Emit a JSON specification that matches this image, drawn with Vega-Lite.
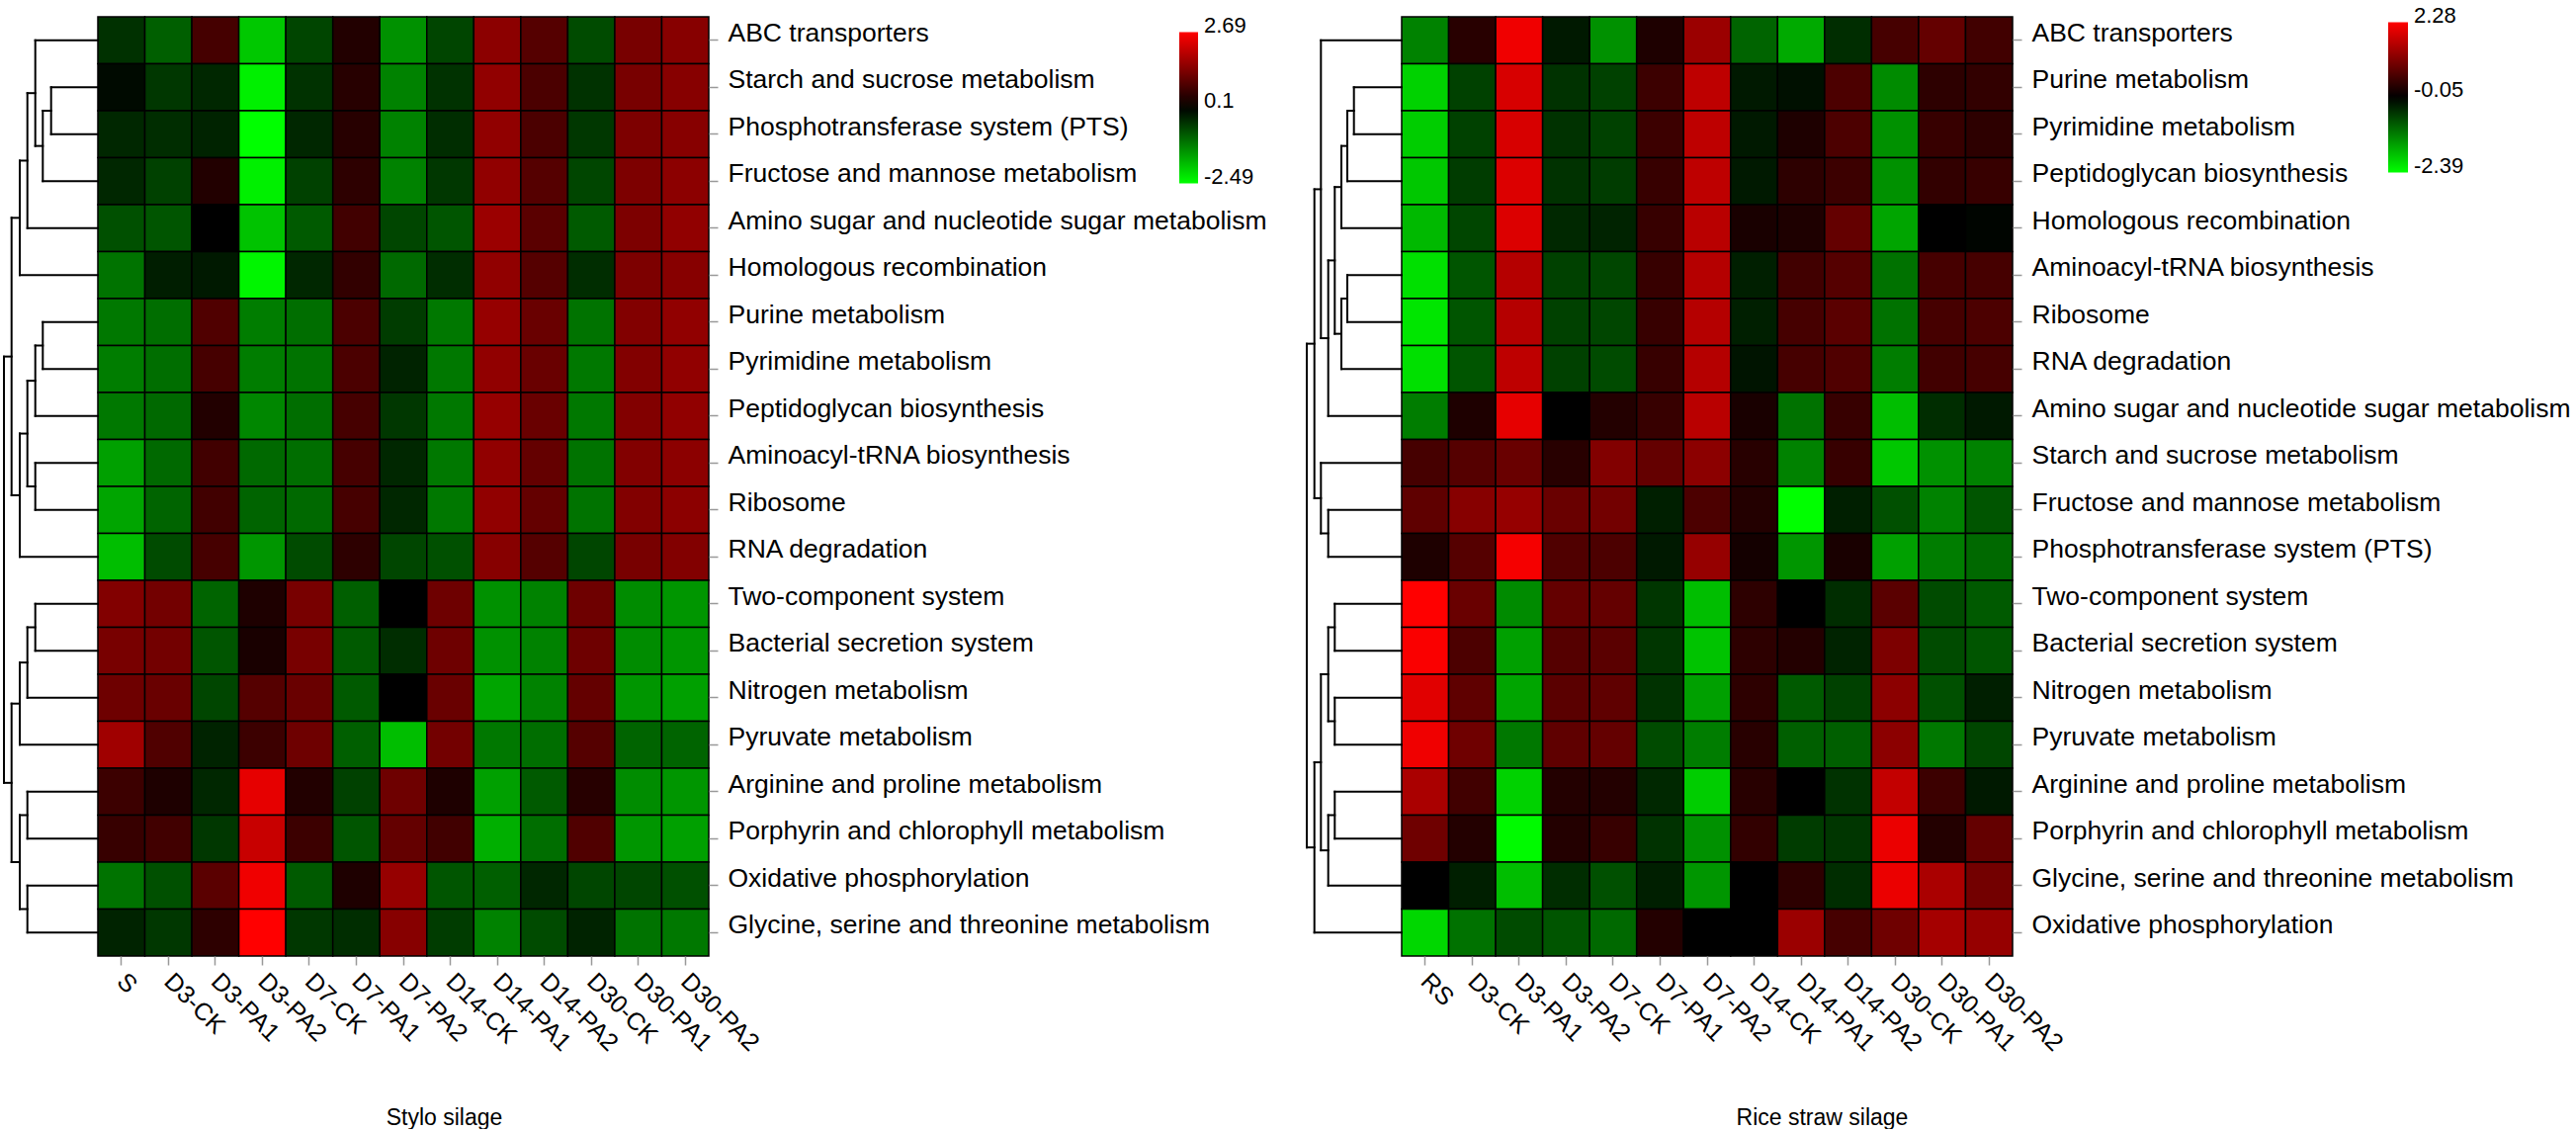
{
  "$schema": "https://vega.github.io/schema/vega-lite/v6.json",
  "background": "white",
  "padding": {"left": 0, "top": 16, "right": 0, "bottom": 0},
  "config": {"view": {"stroke": null}, "font": "Liberation Sans"},
  "datasets": {
    "stylo": [
      {"p":"ABC transporters","s":"S","v":-0.4},{"p":"ABC transporters","s":"D3-CK","v":-0.86},{"p":"ABC transporters","s":"D3-PA1","v":0.8},{"p":"ABC transporters","s":"D3-PA2","v":-1.93},{"p":"ABC transporters","s":"D7-CK","v":-0.6},{"p":"ABC transporters","s":"D7-PA1","v":0.45},{"p":"ABC transporters","s":"D7-PA2","v":-1.37},{"p":"ABC transporters","s":"D14-CK","v":-0.6},{"p":"ABC transporters","s":"D14-PA1","v":1.52},{"p":"ABC transporters","s":"D14-PA2","v":0.96},{"p":"ABC transporters","s":"D30-CK","v":-0.66},{"p":"ABC transporters","s":"D30-PA1","v":1.32},{"p":"ABC transporters","s":"D30-PA2","v":1.47},
      {"p":"Starch and sucrose metabolism","s":"S","v":0.0},{"p":"Starch and sucrose metabolism","s":"D3-CK","v":-0.46},{"p":"Starch and sucrose metabolism","s":"D3-PA1","v":-0.3},{"p":"Starch and sucrose metabolism","s":"D3-PA2","v":-2.34},{"p":"Starch and sucrose metabolism","s":"D7-CK","v":-0.41},{"p":"Starch and sucrose metabolism","s":"D7-PA1","v":0.5},{"p":"Starch and sucrose metabolism","s":"D7-PA2","v":-1.22},{"p":"Starch and sucrose metabolism","s":"D14-CK","v":-0.41},{"p":"Starch and sucrose metabolism","s":"D14-PA1","v":1.57},{"p":"Starch and sucrose metabolism","s":"D14-PA2","v":0.86},{"p":"Starch and sucrose metabolism","s":"D30-CK","v":-0.41},{"p":"Starch and sucrose metabolism","s":"D30-PA1","v":1.32},{"p":"Starch and sucrose metabolism","s":"D30-PA2","v":1.47},
      {"p":"Phosphotransferase system (PTS)","s":"S","v":-0.3},{"p":"Phosphotransferase system (PTS)","s":"D3-CK","v":-0.36},{"p":"Phosphotransferase system (PTS)","s":"D3-PA1","v":-0.26},{"p":"Phosphotransferase system (PTS)","s":"D3-PA2","v":-2.49},{"p":"Phosphotransferase system (PTS)","s":"D7-CK","v":-0.3},{"p":"Phosphotransferase system (PTS)","s":"D7-PA1","v":0.5},{"p":"Phosphotransferase system (PTS)","s":"D7-PA2","v":-1.22},{"p":"Phosphotransferase system (PTS)","s":"D14-CK","v":-0.36},{"p":"Phosphotransferase system (PTS)","s":"D14-PA1","v":1.57},{"p":"Phosphotransferase system (PTS)","s":"D14-PA2","v":0.86},{"p":"Phosphotransferase system (PTS)","s":"D30-CK","v":-0.46},{"p":"Phosphotransferase system (PTS)","s":"D30-PA1","v":1.37},{"p":"Phosphotransferase system (PTS)","s":"D30-PA2","v":1.47},
      {"p":"Fructose and mannose metabolism","s":"S","v":-0.3},{"p":"Fructose and mannose metabolism","s":"D3-CK","v":-0.56},{"p":"Fructose and mannose metabolism","s":"D3-PA1","v":0.45},{"p":"Fructose and mannose metabolism","s":"D3-PA2","v":-2.34},{"p":"Fructose and mannose metabolism","s":"D7-CK","v":-0.56},{"p":"Fructose and mannose metabolism","s":"D7-PA1","v":0.56},{"p":"Fructose and mannose metabolism","s":"D7-PA2","v":-1.22},{"p":"Fructose and mannose metabolism","s":"D14-CK","v":-0.46},{"p":"Fructose and mannose metabolism","s":"D14-PA1","v":1.57},{"p":"Fructose and mannose metabolism","s":"D14-PA2","v":0.96},{"p":"Fructose and mannose metabolism","s":"D30-CK","v":-0.61},{"p":"Fructose and mannose metabolism","s":"D30-PA1","v":1.37},{"p":"Fructose and mannose metabolism","s":"D30-PA2","v":1.52},
      {"p":"Amino sugar and nucleotide sugar metabolism","s":"S","v":-0.71},{"p":"Amino sugar and nucleotide sugar metabolism","s":"D3-CK","v":-0.76},{"p":"Amino sugar and nucleotide sugar metabolism","s":"D3-PA1","v":0.1},{"p":"Amino sugar and nucleotide sugar metabolism","s":"D3-PA2","v":-1.88},{"p":"Amino sugar and nucleotide sugar metabolism","s":"D7-CK","v":-0.81},{"p":"Amino sugar and nucleotide sugar metabolism","s":"D7-PA1","v":0.76},{"p":"Amino sugar and nucleotide sugar metabolism","s":"D7-PA2","v":-0.61},{"p":"Amino sugar and nucleotide sugar metabolism","s":"D14-CK","v":-0.76},{"p":"Amino sugar and nucleotide sugar metabolism","s":"D14-PA1","v":1.67},{"p":"Amino sugar and nucleotide sugar metabolism","s":"D14-PA2","v":1.01},{"p":"Amino sugar and nucleotide sugar metabolism","s":"D30-CK","v":-0.81},{"p":"Amino sugar and nucleotide sugar metabolism","s":"D30-PA1","v":1.37},{"p":"Amino sugar and nucleotide sugar metabolism","s":"D30-PA2","v":1.57},
      {"p":"Homologous recombination","s":"S","v":-1.07},{"p":"Homologous recombination","s":"D3-CK","v":-0.2},{"p":"Homologous recombination","s":"D3-PA1","v":-0.15},{"p":"Homologous recombination","s":"D3-PA2","v":-2.39},{"p":"Homologous recombination","s":"D7-CK","v":-0.3},{"p":"Homologous recombination","s":"D7-PA1","v":0.61},{"p":"Homologous recombination","s":"D7-PA2","v":-0.97},{"p":"Homologous recombination","s":"D14-CK","v":-0.36},{"p":"Homologous recombination","s":"D14-PA1","v":1.57},{"p":"Homologous recombination","s":"D14-PA2","v":0.96},{"p":"Homologous recombination","s":"D30-CK","v":-0.36},{"p":"Homologous recombination","s":"D30-PA1","v":1.37},{"p":"Homologous recombination","s":"D30-PA2","v":1.47},
      {"p":"Purine metabolism","s":"S","v":-1.12},{"p":"Purine metabolism","s":"D3-CK","v":-1.02},{"p":"Purine metabolism","s":"D3-PA1","v":0.91},{"p":"Purine metabolism","s":"D3-PA2","v":-1.17},{"p":"Purine metabolism","s":"D7-CK","v":-1.02},{"p":"Purine metabolism","s":"D7-PA1","v":0.86},{"p":"Purine metabolism","s":"D7-PA2","v":-0.51},{"p":"Purine metabolism","s":"D14-CK","v":-1.12},{"p":"Purine metabolism","s":"D14-PA1","v":1.62},{"p":"Purine metabolism","s":"D14-PA2","v":1.17},{"p":"Purine metabolism","s":"D30-CK","v":-1.07},{"p":"Purine metabolism","s":"D30-PA1","v":1.42},{"p":"Purine metabolism","s":"D30-PA2","v":1.57},
      {"p":"Pyrimidine metabolism","s":"S","v":-1.17},{"p":"Pyrimidine metabolism","s":"D3-CK","v":-1.02},{"p":"Pyrimidine metabolism","s":"D3-PA1","v":0.81},{"p":"Pyrimidine metabolism","s":"D3-PA2","v":-1.17},{"p":"Pyrimidine metabolism","s":"D7-CK","v":-1.07},{"p":"Pyrimidine metabolism","s":"D7-PA1","v":0.86},{"p":"Pyrimidine metabolism","s":"D7-PA2","v":-0.26},{"p":"Pyrimidine metabolism","s":"D14-CK","v":-1.12},{"p":"Pyrimidine metabolism","s":"D14-PA1","v":1.57},{"p":"Pyrimidine metabolism","s":"D14-PA2","v":1.17},{"p":"Pyrimidine metabolism","s":"D30-CK","v":-1.12},{"p":"Pyrimidine metabolism","s":"D30-PA1","v":1.42},{"p":"Pyrimidine metabolism","s":"D30-PA2","v":1.57},
      {"p":"Peptidoglycan biosynthesis","s":"S","v":-1.12},{"p":"Peptidoglycan biosynthesis","s":"D3-CK","v":-0.97},{"p":"Peptidoglycan biosynthesis","s":"D3-PA1","v":0.45},{"p":"Peptidoglycan biosynthesis","s":"D3-PA2","v":-1.27},{"p":"Peptidoglycan biosynthesis","s":"D7-CK","v":-1.02},{"p":"Peptidoglycan biosynthesis","s":"D7-PA1","v":0.81},{"p":"Peptidoglycan biosynthesis","s":"D7-PA2","v":-0.46},{"p":"Peptidoglycan biosynthesis","s":"D14-CK","v":-1.12},{"p":"Peptidoglycan biosynthesis","s":"D14-PA1","v":1.62},{"p":"Peptidoglycan biosynthesis","s":"D14-PA2","v":1.17},{"p":"Peptidoglycan biosynthesis","s":"D30-CK","v":-1.12},{"p":"Peptidoglycan biosynthesis","s":"D30-PA1","v":1.42},{"p":"Peptidoglycan biosynthesis","s":"D30-PA2","v":1.57},
      {"p":"Aminoacyl-tRNA biosynthesis","s":"S","v":-1.53},{"p":"Aminoacyl-tRNA biosynthesis","s":"D3-CK","v":-0.97},{"p":"Aminoacyl-tRNA biosynthesis","s":"D3-PA1","v":0.76},{"p":"Aminoacyl-tRNA biosynthesis","s":"D3-PA2","v":-0.97},{"p":"Aminoacyl-tRNA biosynthesis","s":"D7-CK","v":-1.02},{"p":"Aminoacyl-tRNA biosynthesis","s":"D7-PA1","v":0.81},{"p":"Aminoacyl-tRNA biosynthesis","s":"D7-PA2","v":-0.3},{"p":"Aminoacyl-tRNA biosynthesis","s":"D14-CK","v":-1.12},{"p":"Aminoacyl-tRNA biosynthesis","s":"D14-PA1","v":1.57},{"p":"Aminoacyl-tRNA biosynthesis","s":"D14-PA2","v":1.12},{"p":"Aminoacyl-tRNA biosynthesis","s":"D30-CK","v":-1.07},{"p":"Aminoacyl-tRNA biosynthesis","s":"D30-PA1","v":1.42},{"p":"Aminoacyl-tRNA biosynthesis","s":"D30-PA2","v":1.52},
      {"p":"Ribosome","s":"S","v":-1.58},{"p":"Ribosome","s":"D3-CK","v":-0.92},{"p":"Ribosome","s":"D3-PA1","v":0.76},{"p":"Ribosome","s":"D3-PA2","v":-0.92},{"p":"Ribosome","s":"D7-CK","v":-0.97},{"p":"Ribosome","s":"D7-PA1","v":0.81},{"p":"Ribosome","s":"D7-PA2","v":-0.3},{"p":"Ribosome","s":"D14-CK","v":-1.12},{"p":"Ribosome","s":"D14-PA1","v":1.57},{"p":"Ribosome","s":"D14-PA2","v":1.12},{"p":"Ribosome","s":"D30-CK","v":-1.07},{"p":"Ribosome","s":"D30-PA1","v":1.42},{"p":"Ribosome","s":"D30-PA2","v":1.52},
      {"p":"RNA degradation","s":"S","v":-1.83},{"p":"RNA degradation","s":"D3-CK","v":-0.66},{"p":"RNA degradation","s":"D3-PA1","v":0.81},{"p":"RNA degradation","s":"D3-PA2","v":-1.42},{"p":"RNA degradation","s":"D7-CK","v":-0.66},{"p":"RNA degradation","s":"D7-PA1","v":0.56},{"p":"RNA degradation","s":"D7-PA2","v":-0.61},{"p":"RNA degradation","s":"D14-CK","v":-0.71},{"p":"RNA degradation","s":"D14-PA1","v":1.47},{"p":"RNA degradation","s":"D14-PA2","v":0.96},{"p":"RNA degradation","s":"D30-CK","v":-0.61},{"p":"RNA degradation","s":"D30-PA1","v":1.32},{"p":"RNA degradation","s":"D30-PA2","v":1.42},
      {"p":"Two-component system","s":"S","v":1.42},{"p":"Two-component system","s":"D3-CK","v":1.27},{"p":"Two-component system","s":"D3-PA1","v":-0.92},{"p":"Two-component system","s":"D3-PA2","v":0.4},{"p":"Two-component system","s":"D7-CK","v":1.32},{"p":"Two-component system","s":"D7-PA1","v":-0.86},{"p":"Two-component system","s":"D7-PA2","v":0.1},{"p":"Two-component system","s":"D14-CK","v":1.22},{"p":"Two-component system","s":"D14-PA1","v":-1.37},{"p":"Two-component system","s":"D14-PA2","v":-1.22},{"p":"Two-component system","s":"D30-CK","v":1.22},{"p":"Two-component system","s":"D30-PA1","v":-1.32},{"p":"Two-component system","s":"D30-PA2","v":-1.42},
      {"p":"Bacterial secretion system","s":"S","v":1.32},{"p":"Bacterial secretion system","s":"D3-CK","v":1.27},{"p":"Bacterial secretion system","s":"D3-PA1","v":-0.76},{"p":"Bacterial secretion system","s":"D3-PA2","v":0.35},{"p":"Bacterial secretion system","s":"D7-CK","v":1.32},{"p":"Bacterial secretion system","s":"D7-PA1","v":-0.81},{"p":"Bacterial secretion system","s":"D7-PA2","v":-0.36},{"p":"Bacterial secretion system","s":"D14-CK","v":1.22},{"p":"Bacterial secretion system","s":"D14-PA1","v":-1.37},{"p":"Bacterial secretion system","s":"D14-PA2","v":-1.22},{"p":"Bacterial secretion system","s":"D30-CK","v":1.22},{"p":"Bacterial secretion system","s":"D30-PA1","v":-1.32},{"p":"Bacterial secretion system","s":"D30-PA2","v":-1.42},
      {"p":"Nitrogen metabolism","s":"S","v":1.22},{"p":"Nitrogen metabolism","s":"D3-CK","v":1.17},{"p":"Nitrogen metabolism","s":"D3-PA1","v":-0.61},{"p":"Nitrogen metabolism","s":"D3-PA2","v":0.96},{"p":"Nitrogen metabolism","s":"D7-CK","v":1.17},{"p":"Nitrogen metabolism","s":"D7-PA1","v":-0.81},{"p":"Nitrogen metabolism","s":"D7-PA2","v":0.1},{"p":"Nitrogen metabolism","s":"D14-CK","v":1.17},{"p":"Nitrogen metabolism","s":"D14-PA1","v":-1.58},{"p":"Nitrogen metabolism","s":"D14-PA2","v":-1.22},{"p":"Nitrogen metabolism","s":"D30-CK","v":1.12},{"p":"Nitrogen metabolism","s":"D30-PA1","v":-1.42},{"p":"Nitrogen metabolism","s":"D30-PA2","v":-1.53},
      {"p":"Pyruvate metabolism","s":"S","v":1.73},{"p":"Pyruvate metabolism","s":"D3-CK","v":0.91},{"p":"Pyruvate metabolism","s":"D3-PA1","v":-0.26},{"p":"Pyruvate metabolism","s":"D3-PA2","v":0.71},{"p":"Pyruvate metabolism","s":"D7-CK","v":1.22},{"p":"Pyruvate metabolism","s":"D7-PA1","v":-0.86},{"p":"Pyruvate metabolism","s":"D7-PA2","v":-1.83},{"p":"Pyruvate metabolism","s":"D14-CK","v":1.27},{"p":"Pyruvate metabolism","s":"D14-PA1","v":-1.12},{"p":"Pyruvate metabolism","s":"D14-PA2","v":-1.02},{"p":"Pyruvate metabolism","s":"D30-CK","v":0.96},{"p":"Pyruvate metabolism","s":"D30-PA1","v":-0.92},{"p":"Pyruvate metabolism","s":"D30-PA2","v":-0.92},
      {"p":"Arginine and proline metabolism","s":"S","v":0.71},{"p":"Arginine and proline metabolism","s":"D3-CK","v":0.4},{"p":"Arginine and proline metabolism","s":"D3-PA1","v":-0.3},{"p":"Arginine and proline metabolism","s":"D3-PA2","v":2.44},{"p":"Arginine and proline metabolism","s":"D7-CK","v":0.45},{"p":"Arginine and proline metabolism","s":"D7-PA1","v":-0.56},{"p":"Arginine and proline metabolism","s":"D7-PA2","v":1.22},{"p":"Arginine and proline metabolism","s":"D14-CK","v":0.4},{"p":"Arginine and proline metabolism","s":"D14-PA1","v":-1.53},{"p":"Arginine and proline metabolism","s":"D14-PA2","v":-0.81},{"p":"Arginine and proline metabolism","s":"D30-CK","v":0.5},{"p":"Arginine and proline metabolism","s":"D30-PA1","v":-1.32},{"p":"Arginine and proline metabolism","s":"D30-PA2","v":-1.42},
      {"p":"Porphyrin and chlorophyll metabolism","s":"S","v":0.66},{"p":"Porphyrin and chlorophyll metabolism","s":"D3-CK","v":0.76},{"p":"Porphyrin and chlorophyll metabolism","s":"D3-PA1","v":-0.46},{"p":"Porphyrin and chlorophyll metabolism","s":"D3-PA2","v":2.13},{"p":"Porphyrin and chlorophyll metabolism","s":"D7-CK","v":0.71},{"p":"Porphyrin and chlorophyll metabolism","s":"D7-PA1","v":-0.76},{"p":"Porphyrin and chlorophyll metabolism","s":"D7-PA2","v":1.12},{"p":"Porphyrin and chlorophyll metabolism","s":"D14-CK","v":0.76},{"p":"Porphyrin and chlorophyll metabolism","s":"D14-PA1","v":-1.68},{"p":"Porphyrin and chlorophyll metabolism","s":"D14-PA2","v":-1.02},{"p":"Porphyrin and chlorophyll metabolism","s":"D30-CK","v":0.91},{"p":"Porphyrin and chlorophyll metabolism","s":"D30-PA1","v":-1.42},{"p":"Porphyrin and chlorophyll metabolism","s":"D30-PA2","v":-1.53},
      {"p":"Oxidative phosphorylation","s":"S","v":-1.07},{"p":"Oxidative phosphorylation","s":"D3-CK","v":-0.71},{"p":"Oxidative phosphorylation","s":"D3-PA1","v":1.01},{"p":"Oxidative phosphorylation","s":"D3-PA2","v":2.54},{"p":"Oxidative phosphorylation","s":"D7-CK","v":-0.81},{"p":"Oxidative phosphorylation","s":"D7-PA1","v":0.4},{"p":"Oxidative phosphorylation","s":"D7-PA2","v":1.62},{"p":"Oxidative phosphorylation","s":"D14-CK","v":-0.76},{"p":"Oxidative phosphorylation","s":"D14-PA1","v":-0.86},{"p":"Oxidative phosphorylation","s":"D14-PA2","v":-0.3},{"p":"Oxidative phosphorylation","s":"D30-CK","v":-0.61},{"p":"Oxidative phosphorylation","s":"D30-PA1","v":-0.61},{"p":"Oxidative phosphorylation","s":"D30-PA2","v":-0.71},
      {"p":"Glycine, serine and threonine metabolism","s":"S","v":-0.26},{"p":"Glycine, serine and threonine metabolism","s":"D3-CK","v":-0.46},{"p":"Glycine, serine and threonine metabolism","s":"D3-PA1","v":0.56},{"p":"Glycine, serine and threonine metabolism","s":"D3-PA2","v":2.69},{"p":"Glycine, serine and threonine metabolism","s":"D7-CK","v":-0.46},{"p":"Glycine, serine and threonine metabolism","s":"D7-PA1","v":-0.36},{"p":"Glycine, serine and threonine metabolism","s":"D7-PA2","v":1.47},{"p":"Glycine, serine and threonine metabolism","s":"D14-CK","v":-0.51},{"p":"Glycine, serine and threonine metabolism","s":"D14-PA1","v":-1.22},{"p":"Glycine, serine and threonine metabolism","s":"D14-PA2","v":-0.66},{"p":"Glycine, serine and threonine metabolism","s":"D30-CK","v":-0.26},{"p":"Glycine, serine and threonine metabolism","s":"D30-PA1","v":-1.07},{"p":"Glycine, serine and threonine metabolism","s":"D30-PA2","v":-1.12}
    ],
    "rice": [
      {"p":"ABC transporters","s":"RS","v":-1.24},{"p":"ABC transporters","s":"D3-CK","v":0.32},{"p":"ABC transporters","s":"D3-PA1","v":2.14},{"p":"ABC transporters","s":"D3-PA2","v":-0.28},{"p":"ABC transporters","s":"D7-CK","v":-1.38},{"p":"ABC transporters","s":"D7-PA1","v":0.22},{"p":"ABC transporters","s":"D7-PA2","v":1.37},{"p":"ABC transporters","s":"D14-CK","v":-0.97},{"p":"ABC transporters","s":"D14-PA1","v":-1.61},{"p":"ABC transporters","s":"D14-PA2","v":-0.46},{"p":"ABC transporters","s":"D30-CK","v":0.59},{"p":"ABC transporters","s":"D30-PA1","v":0.86},{"p":"ABC transporters","s":"D30-PA2","v":0.54},
      {"p":"Purine metabolism","s":"RS","v":-1.98},{"p":"Purine metabolism","s":"D3-CK","v":-0.65},{"p":"Purine metabolism","s":"D3-PA1","v":1.91},{"p":"Purine metabolism","s":"D3-PA2","v":-0.51},{"p":"Purine metabolism","s":"D7-CK","v":-0.65},{"p":"Purine metabolism","s":"D7-PA1","v":0.5},{"p":"Purine metabolism","s":"D7-PA2","v":1.69},{"p":"Purine metabolism","s":"D14-CK","v":-0.28},{"p":"Purine metabolism","s":"D14-PA1","v":-0.2},{"p":"Purine metabolism","s":"D14-PA2","v":0.64},{"p":"Purine metabolism","s":"D30-CK","v":-1.33},{"p":"Purine metabolism","s":"D30-PA1","v":0.36},{"p":"Purine metabolism","s":"D30-PA2","v":0.41},
      {"p":"Pyrimidine metabolism","s":"RS","v":-1.93},{"p":"Pyrimidine metabolism","s":"D3-CK","v":-0.65},{"p":"Pyrimidine metabolism","s":"D3-PA1","v":1.91},{"p":"Pyrimidine metabolism","s":"D3-PA2","v":-0.51},{"p":"Pyrimidine metabolism","s":"D7-CK","v":-0.65},{"p":"Pyrimidine metabolism","s":"D7-PA1","v":0.5},{"p":"Pyrimidine metabolism","s":"D7-PA2","v":1.69},{"p":"Pyrimidine metabolism","s":"D14-CK","v":-0.28},{"p":"Pyrimidine metabolism","s":"D14-PA1","v":0.22},{"p":"Pyrimidine metabolism","s":"D14-PA2","v":0.64},{"p":"Pyrimidine metabolism","s":"D30-CK","v":-1.38},{"p":"Pyrimidine metabolism","s":"D30-PA1","v":0.45},{"p":"Pyrimidine metabolism","s":"D30-PA2","v":0.36},
      {"p":"Peptidoglycan biosynthesis","s":"RS","v":-1.88},{"p":"Peptidoglycan biosynthesis","s":"D3-CK","v":-0.6},{"p":"Peptidoglycan biosynthesis","s":"D3-PA1","v":1.96},{"p":"Peptidoglycan biosynthesis","s":"D3-PA2","v":-0.51},{"p":"Peptidoglycan biosynthesis","s":"D7-CK","v":-0.6},{"p":"Peptidoglycan biosynthesis","s":"D7-PA1","v":0.45},{"p":"Peptidoglycan biosynthesis","s":"D7-PA2","v":1.69},{"p":"Peptidoglycan biosynthesis","s":"D14-CK","v":-0.28},{"p":"Peptidoglycan biosynthesis","s":"D14-PA1","v":0.36},{"p":"Peptidoglycan biosynthesis","s":"D14-PA2","v":0.5},{"p":"Peptidoglycan biosynthesis","s":"D30-CK","v":-1.38},{"p":"Peptidoglycan biosynthesis","s":"D30-PA1","v":0.41},{"p":"Peptidoglycan biosynthesis","s":"D30-PA2","v":0.45},
      {"p":"Homologous recombination","s":"RS","v":-1.75},{"p":"Homologous recombination","s":"D3-CK","v":-0.69},{"p":"Homologous recombination","s":"D3-PA1","v":1.96},{"p":"Homologous recombination","s":"D3-PA2","v":-0.42},{"p":"Homologous recombination","s":"D7-CK","v":-0.37},{"p":"Homologous recombination","s":"D7-PA1","v":0.45},{"p":"Homologous recombination","s":"D7-PA2","v":1.64},{"p":"Homologous recombination","s":"D14-CK","v":0.18},{"p":"Homologous recombination","s":"D14-PA1","v":0.22},{"p":"Homologous recombination","s":"D14-PA2","v":0.86},{"p":"Homologous recombination","s":"D30-CK","v":-1.56},{"p":"Homologous recombination","s":"D30-PA1","v":-0.05},{"p":"Homologous recombination","s":"D30-PA2","v":-0.1},
      {"p":"Aminoacyl-tRNA biosynthesis","s":"RS","v":-2.11},{"p":"Aminoacyl-tRNA biosynthesis","s":"D3-CK","v":-0.83},{"p":"Aminoacyl-tRNA biosynthesis","s":"D3-PA1","v":1.6},{"p":"Aminoacyl-tRNA biosynthesis","s":"D3-PA2","v":-0.65},{"p":"Aminoacyl-tRNA biosynthesis","s":"D7-CK","v":-0.69},{"p":"Aminoacyl-tRNA biosynthesis","s":"D7-PA1","v":0.45},{"p":"Aminoacyl-tRNA biosynthesis","s":"D7-PA2","v":1.6},{"p":"Aminoacyl-tRNA biosynthesis","s":"D14-CK","v":-0.33},{"p":"Aminoacyl-tRNA biosynthesis","s":"D14-PA1","v":0.54},{"p":"Aminoacyl-tRNA biosynthesis","s":"D14-PA2","v":0.73},{"p":"Aminoacyl-tRNA biosynthesis","s":"D30-CK","v":-1.1},{"p":"Aminoacyl-tRNA biosynthesis","s":"D30-PA1","v":0.59},{"p":"Aminoacyl-tRNA biosynthesis","s":"D30-PA2","v":0.59},
      {"p":"Ribosome","s":"RS","v":-2.16},{"p":"Ribosome","s":"D3-CK","v":-0.83},{"p":"Ribosome","s":"D3-PA1","v":1.6},{"p":"Ribosome","s":"D3-PA2","v":-0.65},{"p":"Ribosome","s":"D7-CK","v":-0.69},{"p":"Ribosome","s":"D7-PA1","v":0.45},{"p":"Ribosome","s":"D7-PA2","v":1.6},{"p":"Ribosome","s":"D14-CK","v":-0.33},{"p":"Ribosome","s":"D14-PA1","v":0.59},{"p":"Ribosome","s":"D14-PA2","v":0.77},{"p":"Ribosome","s":"D30-CK","v":-1.1},{"p":"Ribosome","s":"D30-PA1","v":0.59},{"p":"Ribosome","s":"D30-PA2","v":0.64},
      {"p":"RNA degradation","s":"RS","v":-2.11},{"p":"RNA degradation","s":"D3-CK","v":-0.83},{"p":"RNA degradation","s":"D3-PA1","v":1.69},{"p":"RNA degradation","s":"D3-PA2","v":-0.65},{"p":"RNA degradation","s":"D7-CK","v":-0.74},{"p":"RNA degradation","s":"D7-PA1","v":0.45},{"p":"RNA degradation","s":"D7-PA2","v":1.6},{"p":"RNA degradation","s":"D14-CK","v":-0.23},{"p":"RNA degradation","s":"D14-PA1","v":0.59},{"p":"RNA degradation","s":"D14-PA2","v":0.68},{"p":"RNA degradation","s":"D30-CK","v":-1.2},{"p":"RNA degradation","s":"D30-PA1","v":0.54},{"p":"RNA degradation","s":"D30-PA2","v":0.59},
      {"p":"Amino sugar and nucleotide sugar metabolism","s":"RS","v":-1.2},{"p":"Amino sugar and nucleotide sugar metabolism","s":"D3-CK","v":0.22},{"p":"Amino sugar and nucleotide sugar metabolism","s":"D3-PA1","v":2.05},{"p":"Amino sugar and nucleotide sugar metabolism","s":"D3-PA2","v":-0.05},{"p":"Amino sugar and nucleotide sugar metabolism","s":"D7-CK","v":0.27},{"p":"Amino sugar and nucleotide sugar metabolism","s":"D7-PA1","v":0.45},{"p":"Amino sugar and nucleotide sugar metabolism","s":"D7-PA2","v":1.64},{"p":"Amino sugar and nucleotide sugar metabolism","s":"D14-CK","v":0.18},{"p":"Amino sugar and nucleotide sugar metabolism","s":"D14-PA1","v":-1.1},{"p":"Amino sugar and nucleotide sugar metabolism","s":"D14-PA2","v":0.45},{"p":"Amino sugar and nucleotide sugar metabolism","s":"D30-CK","v":-1.79},{"p":"Amino sugar and nucleotide sugar metabolism","s":"D30-PA1","v":-0.46},{"p":"Amino sugar and nucleotide sugar metabolism","s":"D30-PA2","v":-0.28},
      {"p":"Starch and sucrose metabolism","s":"RS","v":0.59},{"p":"Starch and sucrose metabolism","s":"D3-CK","v":0.73},{"p":"Starch and sucrose metabolism","s":"D3-PA1","v":0.91},{"p":"Starch and sucrose metabolism","s":"D3-PA2","v":0.32},{"p":"Starch and sucrose metabolism","s":"D7-CK","v":1.14},{"p":"Starch and sucrose metabolism","s":"D7-PA1","v":0.86},{"p":"Starch and sucrose metabolism","s":"D7-PA2","v":1.23},{"p":"Starch and sucrose metabolism","s":"D14-CK","v":0.32},{"p":"Starch and sucrose metabolism","s":"D14-PA1","v":-1.24},{"p":"Starch and sucrose metabolism","s":"D14-PA2","v":0.45},{"p":"Starch and sucrose metabolism","s":"D30-CK","v":-1.88},{"p":"Starch and sucrose metabolism","s":"D30-PA1","v":-1.38},{"p":"Starch and sucrose metabolism","s":"D30-PA2","v":-1.24},
      {"p":"Fructose and mannose metabolism","s":"RS","v":0.82},{"p":"Fructose and mannose metabolism","s":"D3-CK","v":1.18},{"p":"Fructose and mannose metabolism","s":"D3-PA1","v":1.32},{"p":"Fructose and mannose metabolism","s":"D3-PA2","v":0.91},{"p":"Fructose and mannose metabolism","s":"D7-CK","v":1.0},{"p":"Fructose and mannose metabolism","s":"D7-PA1","v":-0.33},{"p":"Fructose and mannose metabolism","s":"D7-PA2","v":0.64},{"p":"Fructose and mannose metabolism","s":"D14-CK","v":0.27},{"p":"Fructose and mannose metabolism","s":"D14-PA1","v":-2.39},{"p":"Fructose and mannose metabolism","s":"D14-PA2","v":-0.33},{"p":"Fructose and mannose metabolism","s":"D30-CK","v":-0.78},{"p":"Fructose and mannose metabolism","s":"D30-PA1","v":-1.24},{"p":"Fructose and mannose metabolism","s":"D30-PA2","v":-0.83},
      {"p":"Phosphotransferase system (PTS)","s":"RS","v":0.22},{"p":"Phosphotransferase system (PTS)","s":"D3-CK","v":0.73},{"p":"Phosphotransferase system (PTS)","s":"D3-PA1","v":2.19},{"p":"Phosphotransferase system (PTS)","s":"D3-PA2","v":0.68},{"p":"Phosphotransferase system (PTS)","s":"D7-CK","v":0.64},{"p":"Phosphotransferase system (PTS)","s":"D7-PA1","v":-0.28},{"p":"Phosphotransferase system (PTS)","s":"D7-PA2","v":1.32},{"p":"Phosphotransferase system (PTS)","s":"D14-CK","v":0.13},{"p":"Phosphotransferase system (PTS)","s":"D14-PA1","v":-1.43},{"p":"Phosphotransferase system (PTS)","s":"D14-PA2","v":0.18},{"p":"Phosphotransferase system (PTS)","s":"D30-CK","v":-1.52},{"p":"Phosphotransferase system (PTS)","s":"D30-PA1","v":-1.2},{"p":"Phosphotransferase system (PTS)","s":"D30-PA2","v":-1.01},
      {"p":"Two-component system","s":"RS","v":2.28},{"p":"Two-component system","s":"D3-CK","v":0.91},{"p":"Two-component system","s":"D3-PA1","v":-1.33},{"p":"Two-component system","s":"D3-PA2","v":0.86},{"p":"Two-component system","s":"D7-CK","v":0.86},{"p":"Two-component system","s":"D7-PA1","v":-0.55},{"p":"Two-component system","s":"D7-PA2","v":-1.79},{"p":"Two-component system","s":"D14-CK","v":0.36},{"p":"Two-component system","s":"D14-PA1","v":-0.05},{"p":"Two-component system","s":"D14-PA2","v":-0.46},{"p":"Two-component system","s":"D30-CK","v":0.77},{"p":"Two-component system","s":"D30-PA1","v":-0.74},{"p":"Two-component system","s":"D30-PA2","v":-0.88},
      {"p":"Bacterial secretion system","s":"RS","v":2.23},{"p":"Bacterial secretion system","s":"D3-CK","v":0.64},{"p":"Bacterial secretion system","s":"D3-PA1","v":-1.52},{"p":"Bacterial secretion system","s":"D3-PA2","v":0.73},{"p":"Bacterial secretion system","s":"D7-CK","v":0.77},{"p":"Bacterial secretion system","s":"D7-PA1","v":-0.55},{"p":"Bacterial secretion system","s":"D7-PA2","v":-1.84},{"p":"Bacterial secretion system","s":"D14-CK","v":0.36},{"p":"Bacterial secretion system","s":"D14-PA1","v":0.27},{"p":"Bacterial secretion system","s":"D14-PA2","v":-0.37},{"p":"Bacterial secretion system","s":"D30-CK","v":1.09},{"p":"Bacterial secretion system","s":"D30-PA1","v":-0.74},{"p":"Bacterial secretion system","s":"D30-PA2","v":-0.83},
      {"p":"Nitrogen metabolism","s":"RS","v":2.01},{"p":"Nitrogen metabolism","s":"D3-CK","v":0.82},{"p":"Nitrogen metabolism","s":"D3-PA1","v":-1.56},{"p":"Nitrogen metabolism","s":"D3-PA2","v":0.77},{"p":"Nitrogen metabolism","s":"D7-CK","v":0.82},{"p":"Nitrogen metabolism","s":"D7-PA1","v":-0.51},{"p":"Nitrogen metabolism","s":"D7-PA2","v":-1.52},{"p":"Nitrogen metabolism","s":"D14-CK","v":0.36},{"p":"Nitrogen metabolism","s":"D14-PA1","v":-0.88},{"p":"Nitrogen metabolism","s":"D14-PA2","v":-0.65},{"p":"Nitrogen metabolism","s":"D30-CK","v":1.23},{"p":"Nitrogen metabolism","s":"D30-PA1","v":-0.78},{"p":"Nitrogen metabolism","s":"D30-PA2","v":-0.33},
      {"p":"Pyruvate metabolism","s":"RS","v":2.14},{"p":"Pyruvate metabolism","s":"D3-CK","v":0.96},{"p":"Pyruvate metabolism","s":"D3-PA1","v":-1.15},{"p":"Pyruvate metabolism","s":"D3-PA2","v":0.82},{"p":"Pyruvate metabolism","s":"D7-CK","v":0.86},{"p":"Pyruvate metabolism","s":"D7-PA1","v":-0.74},{"p":"Pyruvate metabolism","s":"D7-PA2","v":-1.2},{"p":"Pyruvate metabolism","s":"D14-CK","v":0.32},{"p":"Pyruvate metabolism","s":"D14-PA1","v":-0.92},{"p":"Pyruvate metabolism","s":"D14-PA2","v":-0.92},{"p":"Pyruvate metabolism","s":"D30-CK","v":1.23},{"p":"Pyruvate metabolism","s":"D30-PA1","v":-1.15},{"p":"Pyruvate metabolism","s":"D30-PA2","v":-0.69},
      {"p":"Arginine and proline metabolism","s":"RS","v":1.5},{"p":"Arginine and proline metabolism","s":"D3-CK","v":0.54},{"p":"Arginine and proline metabolism","s":"D3-PA1","v":-1.98},{"p":"Arginine and proline metabolism","s":"D3-PA2","v":0.27},{"p":"Arginine and proline metabolism","s":"D7-CK","v":0.27},{"p":"Arginine and proline metabolism","s":"D7-PA1","v":-0.42},{"p":"Arginine and proline metabolism","s":"D7-PA2","v":-1.93},{"p":"Arginine and proline metabolism","s":"D14-CK","v":0.32},{"p":"Arginine and proline metabolism","s":"D14-PA1","v":-0.05},{"p":"Arginine and proline metabolism","s":"D14-PA2","v":-0.51},{"p":"Arginine and proline metabolism","s":"D30-CK","v":1.73},{"p":"Arginine and proline metabolism","s":"D30-PA1","v":0.5},{"p":"Arginine and proline metabolism","s":"D30-PA2","v":-0.28},
      {"p":"Porphyrin and chlorophyll metabolism","s":"RS","v":0.96},{"p":"Porphyrin and chlorophyll metabolism","s":"D3-CK","v":0.27},{"p":"Porphyrin and chlorophyll metabolism","s":"D3-PA1","v":-2.34},{"p":"Porphyrin and chlorophyll metabolism","s":"D3-PA2","v":0.27},{"p":"Porphyrin and chlorophyll metabolism","s":"D7-CK","v":0.45},{"p":"Porphyrin and chlorophyll metabolism","s":"D7-PA1","v":-0.51},{"p":"Porphyrin and chlorophyll metabolism","s":"D7-PA2","v":-1.38},{"p":"Porphyrin and chlorophyll metabolism","s":"D14-CK","v":0.41},{"p":"Porphyrin and chlorophyll metabolism","s":"D14-PA1","v":-0.6},{"p":"Porphyrin and chlorophyll metabolism","s":"D14-PA2","v":-0.55},{"p":"Porphyrin and chlorophyll metabolism","s":"D30-CK","v":2.1},{"p":"Porphyrin and chlorophyll metabolism","s":"D30-PA1","v":0.27},{"p":"Porphyrin and chlorophyll metabolism","s":"D30-PA2","v":0.86},
      {"p":"Glycine, serine and threonine metabolism","s":"RS","v":-0.05},{"p":"Glycine, serine and threonine metabolism","s":"D3-CK","v":-0.33},{"p":"Glycine, serine and threonine metabolism","s":"D3-PA1","v":-1.79},{"p":"Glycine, serine and threonine metabolism","s":"D3-PA2","v":-0.46},{"p":"Glycine, serine and threonine metabolism","s":"D7-CK","v":-0.78},{"p":"Glycine, serine and threonine metabolism","s":"D7-PA1","v":-0.33},{"p":"Glycine, serine and threonine metabolism","s":"D7-PA2","v":-1.43},{"p":"Glycine, serine and threonine metabolism","s":"D14-CK","v":-0.05},{"p":"Glycine, serine and threonine metabolism","s":"D14-PA1","v":0.36},{"p":"Glycine, serine and threonine metabolism","s":"D14-PA2","v":-0.46},{"p":"Glycine, serine and threonine metabolism","s":"D30-CK","v":2.1},{"p":"Glycine, serine and threonine metabolism","s":"D30-PA1","v":1.5},{"p":"Glycine, serine and threonine metabolism","s":"D30-PA2","v":1.0},
      {"p":"Oxidative phosphorylation","s":"RS","v":-2.02},{"p":"Oxidative phosphorylation","s":"D3-CK","v":-1.1},{"p":"Oxidative phosphorylation","s":"D3-PA1","v":-0.74},{"p":"Oxidative phosphorylation","s":"D3-PA2","v":-0.83},{"p":"Oxidative phosphorylation","s":"D7-CK","v":-1.01},{"p":"Oxidative phosphorylation","s":"D7-PA1","v":0.27},{"p":"Oxidative phosphorylation","s":"D7-PA2","v":-0.05},{"p":"Oxidative phosphorylation","s":"D14-CK","v":-0.05},{"p":"Oxidative phosphorylation","s":"D14-PA1","v":1.37},{"p":"Oxidative phosphorylation","s":"D14-PA2","v":0.59},{"p":"Oxidative phosphorylation","s":"D30-CK","v":0.96},{"p":"Oxidative phosphorylation","s":"D30-PA1","v":1.46},{"p":"Oxidative phosphorylation","s":"D30-PA2","v":1.32}
    ],
    "stylo_tree": [
      {"h1":47.3,"h2":47.3,"r1":1.5,"r2":2.5},{"h1":0,"h2":47.3,"r1":1.5,"r2":1.5},{"h1":0,"h2":47.3,"r1":2.5,"r2":2.5},
      {"h1":55.7,"h2":55.7,"r1":2.0,"r2":3.5},{"h1":47.3,"h2":55.7,"r1":2.0,"r2":2.0},{"h1":0,"h2":55.7,"r1":3.5,"r2":3.5},
      {"h1":63.3,"h2":63.3,"r1":0.5,"r2":2.75},{"h1":0,"h2":63.3,"r1":0.5,"r2":0.5},{"h1":55.7,"h2":63.3,"r1":2.75,"r2":2.75},
      {"h1":71.3,"h2":71.3,"r1":1.625,"r2":4.5},{"h1":63.3,"h2":71.3,"r1":1.625,"r2":1.625},{"h1":0,"h2":71.3,"r1":4.5,"r2":4.5},
      {"h1":79,"h2":79,"r1":3.0625,"r2":5.5},{"h1":71.3,"h2":79,"r1":3.0625,"r2":3.0625},{"h1":0,"h2":79,"r1":5.5,"r2":5.5},
      {"h1":55.7,"h2":55.7,"r1":6.5,"r2":7.5},{"h1":0,"h2":55.7,"r1":6.5,"r2":6.5},{"h1":0,"h2":55.7,"r1":7.5,"r2":7.5},
      {"h1":63.3,"h2":63.3,"r1":7.0,"r2":8.5},{"h1":55.7,"h2":63.3,"r1":7.0,"r2":7.0},{"h1":0,"h2":63.3,"r1":8.5,"r2":8.5},
      {"h1":63.3,"h2":63.3,"r1":9.5,"r2":10.5},{"h1":0,"h2":63.3,"r1":9.5,"r2":9.5},{"h1":0,"h2":63.3,"r1":10.5,"r2":10.5},
      {"h1":71.3,"h2":71.3,"r1":7.75,"r2":10.0},{"h1":63.3,"h2":71.3,"r1":7.75,"r2":7.75},{"h1":63.3,"h2":71.3,"r1":10.0,"r2":10.0},
      {"h1":79,"h2":79,"r1":8.875,"r2":11.5},{"h1":71.3,"h2":79,"r1":8.875,"r2":8.875},{"h1":0,"h2":79,"r1":11.5,"r2":11.5},
      {"h1":87.3,"h2":87.3,"r1":4.28125,"r2":10.1875},{"h1":79,"h2":87.3,"r1":4.28125,"r2":4.28125},{"h1":79,"h2":87.3,"r1":10.1875,"r2":10.1875},
      {"h1":63.3,"h2":63.3,"r1":12.5,"r2":13.5},{"h1":0,"h2":63.3,"r1":12.5,"r2":12.5},{"h1":0,"h2":63.3,"r1":13.5,"r2":13.5},
      {"h1":71.3,"h2":71.3,"r1":13.0,"r2":14.5},{"h1":63.3,"h2":71.3,"r1":13.0,"r2":13.0},{"h1":0,"h2":71.3,"r1":14.5,"r2":14.5},
      {"h1":79,"h2":79,"r1":13.75,"r2":15.5},{"h1":71.3,"h2":79,"r1":13.75,"r2":13.75},{"h1":0,"h2":79,"r1":15.5,"r2":15.5},
      {"h1":71.3,"h2":71.3,"r1":16.5,"r2":17.5},{"h1":0,"h2":71.3,"r1":16.5,"r2":16.5},{"h1":0,"h2":71.3,"r1":17.5,"r2":17.5},
      {"h1":71.3,"h2":71.3,"r1":18.5,"r2":19.5},{"h1":0,"h2":71.3,"r1":18.5,"r2":18.5},{"h1":0,"h2":71.3,"r1":19.5,"r2":19.5},
      {"h1":79,"h2":79,"r1":17.0,"r2":19.0},{"h1":71.3,"h2":79,"r1":17.0,"r2":17.0},{"h1":71.3,"h2":79,"r1":19.0,"r2":19.0},
      {"h1":87.3,"h2":87.3,"r1":14.625,"r2":18.0},{"h1":79,"h2":87.3,"r1":14.625,"r2":14.625},{"h1":79,"h2":87.3,"r1":18.0,"r2":18.0},
      {"h1":95,"h2":95,"r1":7.234375,"r2":16.3125},{"h1":87.3,"h2":95,"r1":7.234375,"r2":7.234375},{"h1":87.3,"h2":95,"r1":16.3125,"r2":16.3125}
    ],
    "rice_tree": [
      {"h1":48.3,"h2":48.3,"r1":1.5,"r2":2.5},{"h1":0,"h2":48.3,"r1":1.5,"r2":1.5},{"h1":0,"h2":48.3,"r1":2.5,"r2":2.5},
      {"h1":55,"h2":55,"r1":2.0,"r2":3.5},{"h1":48.3,"h2":55,"r1":2.0,"r2":2.0},{"h1":0,"h2":55,"r1":3.5,"r2":3.5},
      {"h1":61,"h2":61,"r1":2.75,"r2":4.5},{"h1":55,"h2":61,"r1":2.75,"r2":2.75},{"h1":0,"h2":61,"r1":4.5,"r2":4.5},
      {"h1":55,"h2":55,"r1":5.5,"r2":6.5},{"h1":0,"h2":55,"r1":5.5,"r2":5.5},{"h1":0,"h2":55,"r1":6.5,"r2":6.5},
      {"h1":61,"h2":61,"r1":6.0,"r2":7.5},{"h1":55,"h2":61,"r1":6.0,"r2":6.0},{"h1":0,"h2":61,"r1":7.5,"r2":7.5},
      {"h1":67.7,"h2":67.7,"r1":3.625,"r2":6.75},{"h1":61,"h2":67.7,"r1":3.625,"r2":3.625},{"h1":61,"h2":67.7,"r1":6.75,"r2":6.75},
      {"h1":74.3,"h2":74.3,"r1":5.1875,"r2":8.5},{"h1":67.7,"h2":74.3,"r1":5.1875,"r2":5.1875},{"h1":0,"h2":74.3,"r1":8.5,"r2":8.5},
      {"h1":81.7,"h2":81.7,"r1":0.5,"r2":6.84375},{"h1":0,"h2":81.7,"r1":0.5,"r2":0.5},{"h1":74.3,"h2":81.7,"r1":6.84375,"r2":6.84375},
      {"h1":74.3,"h2":74.3,"r1":10.5,"r2":11.5},{"h1":0,"h2":74.3,"r1":10.5,"r2":10.5},{"h1":0,"h2":74.3,"r1":11.5,"r2":11.5},
      {"h1":81.7,"h2":81.7,"r1":9.5,"r2":11.0},{"h1":0,"h2":81.7,"r1":9.5,"r2":9.5},{"h1":74.3,"h2":81.7,"r1":11.0,"r2":11.0},
      {"h1":88.3,"h2":88.3,"r1":3.671875,"r2":10.25},{"h1":81.7,"h2":88.3,"r1":3.671875,"r2":3.671875},{"h1":81.7,"h2":88.3,"r1":10.25,"r2":10.25},
      {"h1":67.7,"h2":67.7,"r1":12.5,"r2":13.5},{"h1":0,"h2":67.7,"r1":12.5,"r2":12.5},{"h1":0,"h2":67.7,"r1":13.5,"r2":13.5},
      {"h1":67.7,"h2":67.7,"r1":14.5,"r2":15.5},{"h1":0,"h2":67.7,"r1":14.5,"r2":14.5},{"h1":0,"h2":67.7,"r1":15.5,"r2":15.5},
      {"h1":74.3,"h2":74.3,"r1":13.0,"r2":15.0},{"h1":67.7,"h2":74.3,"r1":13.0,"r2":13.0},{"h1":67.7,"h2":74.3,"r1":15.0,"r2":15.0},
      {"h1":67.7,"h2":67.7,"r1":16.5,"r2":17.5},{"h1":0,"h2":67.7,"r1":16.5,"r2":16.5},{"h1":0,"h2":67.7,"r1":17.5,"r2":17.5},
      {"h1":74.3,"h2":74.3,"r1":17.0,"r2":18.5},{"h1":67.7,"h2":74.3,"r1":17.0,"r2":17.0},{"h1":0,"h2":74.3,"r1":18.5,"r2":18.5},
      {"h1":81.7,"h2":81.7,"r1":14.0,"r2":17.75},{"h1":74.3,"h2":81.7,"r1":14.0,"r2":14.0},{"h1":74.3,"h2":81.7,"r1":17.75,"r2":17.75},
      {"h1":88.3,"h2":88.3,"r1":15.875,"r2":19.5},{"h1":81.7,"h2":88.3,"r1":15.875,"r2":15.875},{"h1":0,"h2":88.3,"r1":19.5,"r2":19.5},
      {"h1":96,"h2":96,"r1":6.9609375,"r2":17.6875},{"h1":88.3,"h2":96,"r1":6.9609375,"r2":6.9609375},{"h1":88.3,"h2":96,"r1":17.6875,"r2":17.6875}
    ]
  },
  "hconcat": [
    {
      "width": 717,
      "height": 950,
      "layer": [
        {
          "data": {"name": "stylo"},
          "mark": {"type": "rect", "stroke": "black", "strokeWidth": 1.5},
          "encoding": {
            "x": {"field": "s", "type": "nominal",
              "sort": ["S","D3-CK","D3-PA1","D3-PA2","D7-CK","D7-PA1","D7-PA2","D14-CK","D14-PA1","D14-PA2","D30-CK","D30-PA1","D30-PA2"],
              "scale": {"range": [99, 717], "paddingInner": 0, "paddingOuter": 0},
              "axis": {"orient": "bottom", "labelAngle": 45, "labelAlign": "left", "labelBaseline": "middle", "labelFontSize": 25, "labelFont": "Liberation Sans", "labelColor": "black", "labelPadding": 12, "labelOverlap": false, "tickSize": 9, "tickColor": "#999999", "tickWidth": 1.5, "domain": false, "grid": false,
                "title": "Stylo silage", "titleX": 449, "titleY": 170, "titleAlign": "center", "titleBaseline": "alphabetic", "titleAngle": 0, "titleFontSize": 23, "titleFontWeight": "normal", "titleFont": "Liberation Sans", "titleColor": "black"}},
            "y": {"field": "p", "type": "nominal",
              "sort": ["ABC transporters","Starch and sucrose metabolism","Phosphotransferase system (PTS)","Fructose and mannose metabolism","Amino sugar and nucleotide sugar metabolism","Homologous recombination","Purine metabolism","Pyrimidine metabolism","Peptidoglycan biosynthesis","Aminoacyl-tRNA biosynthesis","Ribosome","RNA degradation","Two-component system","Bacterial secretion system","Nitrogen metabolism","Pyruvate metabolism","Arginine and proline metabolism","Porphyrin and chlorophyll metabolism","Oxidative phosphorylation","Glycine, serine and threonine metabolism"],
              "scale": {"paddingInner": 0, "paddingOuter": 0},
              "axis": {"orient": "right", "title": null, "labelFontSize": 26.5, "labelFont": "Liberation Sans", "labelColor": "black", "labelLimit": 900, "labelPadding": 10, "labelBaseline": "alphabetic", "labelOffset": 1, "labelOverlap": false, "tickSize": 9, "tickColor": "#999999", "tickWidth": 1.5, "domain": false, "grid": false}},
            "color": {"field": "v", "type": "quantitative",
              "scale": {"domain": [-2.49, 0.1, 2.69], "range": ["#00ff00", "#000000", "#ff0000"], "interpolate": "rgb", "clamp": true},
              "legend": {"orient": "none", "legendX": 1193, "legendY": 15.5, "direction": "vertical", "gradientLength": 153, "gradientThickness": 19, "gradientStrokeWidth": 0, "title": null, "values": [-2.49, 0.1, 2.69], "labelFontSize": 22, "labelFont": "Liberation Sans", "labelColor": "black", "labelOffset": 6, "labelOverlap": false,
                "labelExpr": "datum.value < 0 ? '-' + toString(abs(datum.value)) : toString(datum.value)",
                "encode": {"labels": {"update": {"baseline": {"value": "alphabetic"}}}}}}
          }
        },
        {
          "data": {"name": "stylo_tree"},
          "mark": {"type": "rule", "color": "black", "strokeWidth": 2, "strokeCap": "square"},
          "encoding": {
            "x": {"field": "h1", "type": "quantitative", "scale": {"domain": [0, 99], "range": [99, 0], "nice": false, "zero": false}, "axis": null},
            "x2": {"field": "h2"},
            "y": {"field": "r1", "type": "quantitative", "scale": {"domain": [0, 20], "reverse": true, "nice": false, "zero": false}, "axis": null},
            "y2": {"field": "r2"}
          }
        }
      ],
      "resolve": {"scale": {"x": "independent", "y": "independent"}}
    },
    {
      "width": 717,
      "height": 950,
      "layer": [
        {
          "data": {"name": "rice"},
          "mark": {"type": "rect", "stroke": "black", "strokeWidth": 1.5},
          "encoding": {
            "x": {"field": "s", "type": "nominal",
              "sort": ["RS","D3-CK","D3-PA1","D3-PA2","D7-CK","D7-PA1","D7-PA2","D14-CK","D14-PA1","D14-PA2","D30-CK","D30-PA1","D30-PA2"],
              "scale": {"range": [99, 717], "paddingInner": 0, "paddingOuter": 0},
              "axis": {"orient": "bottom", "labelAngle": 45, "labelAlign": "left", "labelBaseline": "middle", "labelFontSize": 25, "labelFont": "Liberation Sans", "labelColor": "black", "labelPadding": 12, "labelOverlap": false, "tickSize": 9, "tickColor": "#999999", "tickWidth": 1.5, "domain": false, "grid": false,
                "title": "Rice straw silage", "titleX": 524, "titleY": 170, "titleAlign": "center", "titleBaseline": "alphabetic", "titleAngle": 0, "titleFontSize": 23, "titleFontWeight": "normal", "titleFont": "Liberation Sans", "titleColor": "black"}},
            "y": {"field": "p", "type": "nominal",
              "sort": ["ABC transporters","Purine metabolism","Pyrimidine metabolism","Peptidoglycan biosynthesis","Homologous recombination","Aminoacyl-tRNA biosynthesis","Ribosome","RNA degradation","Amino sugar and nucleotide sugar metabolism","Starch and sucrose metabolism","Fructose and mannose metabolism","Phosphotransferase system (PTS)","Two-component system","Bacterial secretion system","Nitrogen metabolism","Pyruvate metabolism","Arginine and proline metabolism","Porphyrin and chlorophyll metabolism","Glycine, serine and threonine metabolism","Oxidative phosphorylation"],
              "scale": {"paddingInner": 0, "paddingOuter": 0},
              "axis": {"orient": "right", "title": null, "labelFontSize": 26.5, "labelFont": "Liberation Sans", "labelColor": "black", "labelLimit": 900, "labelPadding": 10, "labelBaseline": "alphabetic", "labelOffset": 1, "labelOverlap": false, "tickSize": 9, "tickColor": "#999999", "tickWidth": 1.5, "domain": false, "grid": false}},
            "color": {"field": "v", "type": "quantitative",
              "scale": {"domain": [-2.39, -0.05, 2.28], "range": ["#00ff00", "#000000", "#ff0000"], "interpolate": "rgb", "clamp": true},
              "legend": {"orient": "none", "legendX": 1097, "legendY": 5.5, "direction": "vertical", "gradientLength": 152, "gradientThickness": 20, "gradientStrokeWidth": 0, "title": null, "values": [-2.39, -0.05, 2.28], "labelFontSize": 22, "labelFont": "Liberation Sans", "labelColor": "black", "labelOffset": 6, "labelOverlap": false,
                "labelExpr": "datum.value < 0 ? '-' + toString(abs(datum.value)) : toString(datum.value)",
                "encode": {"labels": {"update": {"baseline": {"value": "alphabetic"}}}}}}
          }
        },
        {
          "data": {"name": "rice_tree"},
          "mark": {"type": "rule", "color": "black", "strokeWidth": 2, "strokeCap": "square"},
          "encoding": {
            "x": {"field": "h1", "type": "quantitative", "scale": {"domain": [0, 99], "range": [99, 0], "nice": false, "zero": false}, "axis": null},
            "x2": {"field": "h2"},
            "y": {"field": "r1", "type": "quantitative", "scale": {"domain": [0, 20], "reverse": true, "nice": false, "zero": false}, "axis": null},
            "y2": {"field": "r2"}
          }
        }
      ],
      "resolve": {"scale": {"x": "independent", "y": "independent"}}
    }
  ],
  "spacing": 602,
  "bounds": "flush",
  "resolve": {"scale": {"color": "independent"}, "legend": {"color": "independent"}}
}
